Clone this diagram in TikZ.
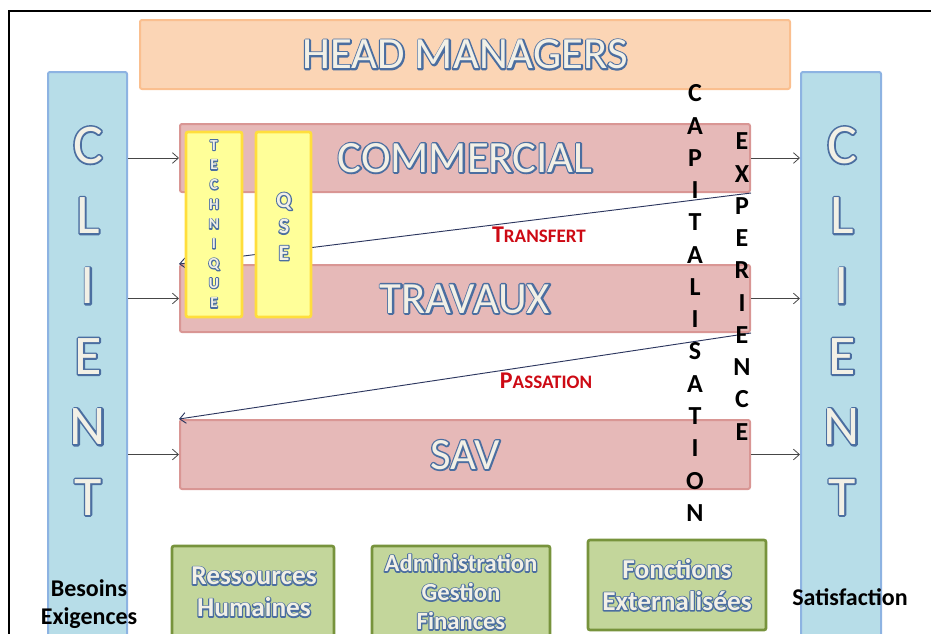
\documentclass[tikz,border=0pt]{standalone}
\usepackage{fontspec}
\setmainfont{Carlito}
\usetikzlibrary{arrows.meta}
\definecolor{pinkF}{RGB}{230,185,184}
\definecolor{pinkD}{RGB}{217,150,148}
\definecolor{orF}{RGB}{251,213,181}
\definecolor{orD}{RGB}{250,191,143}
\definecolor{blF}{RGB}{183,221,232}
\definecolor{blD}{RGB}{141,179,226}
\definecolor{yeF}{RGB}{255,255,153}
\definecolor{yeD}{RGB}{255,222,60}
\definecolor{grF}{RGB}{195,214,155}
\definecolor{grD}{RGB}{119,147,60}
\definecolor{cream}{RGB}{242,240,230}
\definecolor{lnk}{RGB}{45,55,95}
\definecolor{tred}{RGB}{205,10,20}
\definecolor{arrc}{RGB}{70,70,70}
% outlined text: blue stroked copy underneath, cream filled copy on top
\newcommand\otxt[2][2.4]{\rlap{\special{pdf:literal direct 0.294 0.431 0.627 RG #1 w 1 j 1 Tr}#2\special{pdf:literal direct 0 Tr}}#2}
\begin{document}
\begin{tikzpicture}[x=0.75pt,y=-0.75pt,
  box/.style={draw, line width=1.5pt, rounded corners=1.5pt, inner sep=0pt},
  pinkbox/.style={box, fill=pinkF, draw=pinkD, minimum width=427.5pt},
  bluebox/.style={box, fill=blF, draw=blD},
  yelbox/.style={box, fill=yeF, draw=yeD, line width=2pt},
  grbox/.style={box, fill=grF, draw=grD, line width=2pt},
  bigtxt/.style={text=cream, font=\fontsize{33.5}{38}\selectfont},
  cltxt/.style={text=cream, align=center, font=\fontsize{42}{52.8}\selectfont},
  grtxt/.style={text=cream, align=center, font=\bfseries\fontsize{20.5}{24}\selectfont},
  vblack/.style={text=black, align=center, font=\bfseries\fontsize{19.5}{24.2}\selectfont},
  side/.style={text=black, align=center, font=\bfseries\fontsize{18}{21}\selectfont},
  redtxt/.style={text=tred, font=\bfseries},
  arr/.style={draw=arrc, line width=0.6pt, -{Straight Barb[length=4.5pt,width=8pt]}},
  lnkarr/.style={draw=lnk, line width=0.7pt, -{Straight Barb[length=4.5pt,width=8pt]}}
]
\useasboundingbox (0,0) rectangle (931,633);
\clip (0,0) rectangle (931,633);
% frame
\draw[line width=1.5pt] (9,700) -- (9,11) -- (940,11);
% head managers
\node[box, fill=orF, draw=orD, minimum width=487.5pt, minimum height=51.75pt] (head) at (465,54.5) {};
\node[bigtxt] (headT) at (465,54.5) {\otxt{HEAD MANAGERS}};
% clients
\node[bluebox, minimum width=59.25pt, minimum height=441pt] (cL) at (87.5,366) {};
\node[bluebox, minimum width=60pt, minimum height=441pt] (cR) at (841,366) {};
\node[cltxt] (cLT) at (88,321) {\otxt[2.6]{C}\\\otxt[2.6]{L}\\\otxt[2.6]{I}\\\otxt[2.6]{E}\\\otxt[2.6]{N}\\\otxt[2.6]{T}};
\node[cltxt] (cRT) at (842,321) {\otxt[2.6]{C}\\\otxt[2.6]{L}\\\otxt[2.6]{I}\\\otxt[2.6]{E}\\\otxt[2.6]{N}\\\otxt[2.6]{T}};
% pink boxes
\node[pinkbox, minimum height=51pt] (com) at (465,158) {};
\node[pinkbox, minimum height=50.25pt] (trav) at (465,298.5) {};
\node[pinkbox, minimum height=51.75pt] (sav) at (465,454.5) {};
% transfer lines (behind the yellow boxes)
\draw[lnkarr] (com.south east) -- (trav.north west);
\draw[lnkarr] (trav.south east) -- (sav.north west);
% yellow boxes
\node[yelbox, minimum width=42pt, minimum height=138.75pt] (tech) at (214,224.5) {};
\node[yelbox, minimum width=41.25pt, minimum height=138.75pt] (qse) at (283.5,224.5) {};
\node[text=cream, align=center, font=\bfseries\fontsize{11.5}{14.8}\selectfont] (techT) at (214,224) {\otxt[1.5]{T}\\\otxt[1.5]{E}\\\otxt[1.5]{C}\\\otxt[1.5]{H}\\\otxt[1.5]{N}\\\otxt[1.5]{I}\\\otxt[1.5]{Q}\\\otxt[1.5]{U}\\\otxt[1.5]{E}};
\node[text=cream, align=center, font=\bfseries\fontsize{16.5}{19.9}\selectfont] (qseT) at (284,226.5) {\otxt[1.7]{Q}\\\otxt[1.7]{S}\\\otxt[1.7]{E}};
% box labels
\node[bigtxt] (comT) at (465,158) {\otxt{COMMERCIAL}};
\node[bigtxt] (travT) at (465,299) {\otxt{TRAVAUX}};
\node[bigtxt] (savT) at (465,455) {\otxt{SAV}};
% client arrows
\draw[arr] (cL.east |- com.west) -- (com.west);
\draw[arr] (cL.east |- trav.west) -- (trav.west);
\draw[arr] (cL.east |- sav.west) -- (sav.west);
\draw[arr] (com.east) -- (com.east -| cR.west);
\draw[arr] (trav.east) -- (trav.east -| cR.west);
\draw[arr] (sav.east) -- (sav.east -| cR.west);
% red labels
\node[redtxt] (transf) at (539,235) {{\fontsize{18}{20}\selectfont T}{\fontsize{14.3}{15}\selectfont RANSFERT}};
\node[redtxt] (pass) at (546,381) {{\fontsize{18}{20}\selectfont P}{\fontsize{14.3}{15}\selectfont ASSATION}};
% vertical words
\node[vblack] (capi) at (695,303) {C\\A\\P\\I\\T\\A\\L\\I\\S\\A\\T\\I\\O\\N};
\node[vblack] (expe) at (742,286.5) {E\\X\\P\\E\\R\\I\\E\\N\\C\\E};
% green boxes
\node[grbox, minimum width=121.5pt, minimum height=85.5pt] (rh) at (253,603) {};
\node[grbox, minimum width=133.5pt, minimum height=85.5pt] (adm) at (461,603) {};
\node[grbox, minimum width=133.5pt, minimum height=67.5pt] (fonc) at (677,585) {};
\node[grtxt] (rhT) at (254,592) {\otxt[1.8]{Ressources}\\\otxt[1.8]{Humaines}};
\node[grtxt, font=\bfseries\fontsize{18.5}{21.75}\selectfont] (admT) at (461,592) {\otxt[1.8]{Administration}\\\otxt[1.8]{Gestion}\\\otxt[1.8]{Finances}};
\node[grtxt] (foncT) at (677,585) {\otxt[1.8]{Fonctions}\\\otxt[1.8]{Externalisées}};
% side labels
\node[side] (bes) at (89,604) {Besoins\\Exigences};
\node[side] (sat) at (850,597) {Satisfaction};
\end{tikzpicture}
\end{document}
